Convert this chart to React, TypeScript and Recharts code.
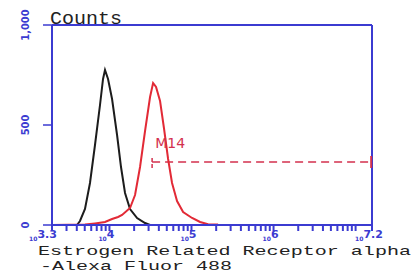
import React from 'react';
import {
  LineChart,
  Line,
  XAxis,
  YAxis,
  Label,
  ReferenceLine,
  ReferenceDot,
} from 'recharts';

// x values are log10 of the fluorescence intensity
const controlLog = [3.605, 3.641, 3.702, 3.763, 3.824, 3.885, 3.922, 3.946, 3.983, 4.032, 4.093, 4.141, 4.19, 4.251, 4.337, 4.434, 4.495];
const controlCounts = [0, 20, 80, 210, 400, 600, 730, 775, 730, 630, 450, 290, 160, 80, 35, 10, 0];

const sampleLog = [3.3, 3.702, 3.824, 3.946, 4.032, 4.105, 4.154, 4.251, 4.312, 4.373, 4.434, 4.495, 4.532, 4.568, 4.617, 4.666, 4.715, 4.763, 4.824, 4.898, 5.007, 5.105, 5.202, 5.324];
const sampleCounts = [0, 2, 8, 15, 30, 40, 50, 85, 150, 290, 470, 640, 710, 690, 620, 480, 330, 210, 120, 65, 35, 15, 4, 2];

const majorTicks = [3.3, 4, 5, 6, 7.2];
const majorLabels = ['3.3', '4', '5', '6', '7.2'];
const yTicks = [0, 500, 1000];
const yLabels = ['0', '500', '1,000'];

const marker = { name: 'M14', from: 4.52, to: 7.19, level: 315 };

const BLUE = '#3b3bd1';
const RED = '#e22a36';
const MARK = '#d3304e';

const controlData = controlLog.map((x, i) => ({ x, y: controlCounts[i] }));
const sampleData = sampleLog.map((x, i) => ({ x, y: sampleCounts[i] }));

// log tick marks: 1..9 per decade, inside the 10^3.3 .. 10^7.2 range
const logTicks: number[] = [3.3];
for (let d = 3; d <= 7; d++) {
  for (let k = 1; k <= 9; k++) {
    const v = d + Math.log10(k);
    if (v > 3.31 && v < 7.19) logTicks.push(v);
  }
}
logTicks.push(7.2);

const renderXTick = (props: any) => {
  const { x, y, payload } = props;
  const idx = majorTicks.findIndex((t) => Math.abs(t - payload.value) < 1e-6);
  if (idx < 0) return <g />;
  const dx = idx === 0 ? -9 : -3;
  return (
    <text
      x={x + dx}
      y={y + 8}
      textAnchor="middle"
      fill={BLUE}
      fontFamily="DejaVu Sans"
      fontWeight="bold"
    >
      <tspan fontSize={6}>10</tspan>
      <tspan fontSize={11} dy={-3}>{majorLabels[idx]}</tspan>
    </text>
  );
};

const renderYTick = (props: any) => {
  const { y, payload } = props;
  const idx = yTicks.indexOf(payload.value);
  return (
    <text
      x={25}
      y={y}
      transform={`rotate(-90, 25, ${y})`}
      textAnchor="middle"
      dominantBaseline="central"
      fill={BLUE}
      fontSize={11}
      fontWeight="bold"
      fontFamily="DejaVu Sans Condensed"
    >
      {yLabels[idx]}
    </text>
  );
};

const renderTitle = () => (
  <g fontFamily="Liberation Mono" fontSize={13} fill="#222">
    <text x={38} y={255} textLength={373} lengthAdjust="spacingAndGlyphs">
      Estrogen Related Receptor alpha
    </text>
    <text x={40} y={270} textLength={192} lengthAdjust="spacingAndGlyphs">
      -Alexa Fluor 488
    </text>
  </g>
);

const renderCounts = () => (
  <text x={50} y={24} fontFamily="Liberation Mono" fontSize={18} fill="#222" textLength={72} lengthAdjust="spacingAndGlyphs">
    Counts
  </text>
);

export default function App() {
  return (
    <div style={{ position: 'fixed', left: 0, top: 0, background: '#fff' }}>
      <LineChart
        width={411}
        height={275}
        margin={{ top: 25, right: 39, bottom: 0, left: 0 }}
      >
        <XAxis
          type="number"
          dataKey="x"
          domain={[3.3, 7.2]}
          ticks={logTicks}
          interval={0}
          height={50}
          axisLine={{ stroke: BLUE, strokeWidth: 2 }}
          tickLine={{ stroke: BLUE, strokeWidth: 2 }}
          tickSize={6}
          tickMargin={2}
          tick={renderXTick}
          allowDataOverflow
        >
          <Label content={renderTitle} />
        </XAxis>
        <YAxis
          type="number"
          dataKey="y"
          domain={[0, 1000]}
          ticks={yTicks}
          interval={0}
          width={52}
          axisLine={{ stroke: BLUE, strokeWidth: 2 }}
          tickLine={{ stroke: BLUE, strokeWidth: 1.5 }}
          tickSize={9}
          tick={renderYTick}
        >
          <Label content={renderCounts} />
        </YAxis>
        <ReferenceLine y={1000} stroke={BLUE} strokeWidth={2} />
        <ReferenceLine x={7.2} stroke={BLUE} strokeWidth={2} />
        <ReferenceLine
          segment={[{ x: marker.from, y: marker.level }, { x: marker.to, y: marker.level }]}
          stroke={MARK}
          strokeWidth={1.5}
          strokeDasharray="8 5"
        />
        <ReferenceLine
          segment={[{ x: marker.from, y: marker.level - 30 }, { x: marker.from, y: marker.level + 30 }]}
          stroke={MARK}
          strokeWidth={1.5}
          strokeDasharray="4 2"
        />
        <ReferenceLine
          segment={[{ x: marker.to, y: marker.level - 30 }, { x: marker.to, y: marker.level + 30 }]}
          stroke={MARK}
          strokeWidth={2}
        />
        <ReferenceDot
          x={4.74}
          y={410}
          r={0}
          fill="none"
          stroke="none"
          label={{ value: marker.name, position: 'center', fill: MARK, fontSize: 14, fontFamily: 'DejaVu Sans' }}
        />
        <Line
          data={controlData}
          dataKey="y"
          type="linear"
          stroke="#1c1c1c"
          strokeWidth={2}
          dot={false}
          isAnimationActive={false}
        />
        <Line
          data={sampleData}
          dataKey="y"
          type="linear"
          stroke={RED}
          strokeWidth={2}
          dot={false}
          isAnimationActive={false}
        />
      </LineChart>
    </div>
  );
}
